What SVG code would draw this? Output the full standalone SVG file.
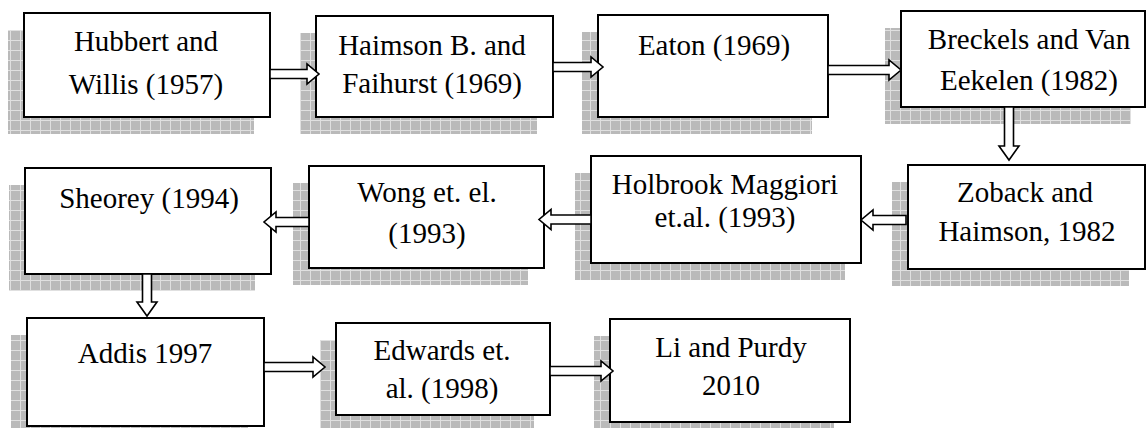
<svg xmlns="http://www.w3.org/2000/svg" width="1147" height="428" viewBox="0 0 1147 428">
<defs>
<pattern id="grid" patternUnits="userSpaceOnUse" width="10" height="10">
<rect width="10" height="10" fill="#bababa"/>
<path d="M0 0.5H10M0.5 0V10" stroke="#e0e0e0" stroke-width="1" fill="none"/>
</pattern>
</defs>
<style>
.sh{fill:url(#grid);stroke:none}
.bx{fill:#fff;stroke:#000;stroke-width:2}
.t{font-family:"Liberation Serif","Times New Roman",serif;font-size:29px;fill:#000;text-anchor:middle}
.ar{fill:#fff;stroke:#000;stroke-width:1.6;stroke-linejoin:miter}
</style>
<rect width="1147" height="428" fill="#fff"/>

<g id="hubbert">
<rect class="sh" x="8" y="30" width="246" height="104"/>
<rect class="bx" x="24" y="13" width="246" height="104"/>
<text class="t" x="146" y="51">Hubbert and</text>
<text class="t" x="146" y="94">Willis (1957)</text>
</g>
<g id="haimson">
<rect class="sh" x="300" y="33" width="237" height="101"/>
<rect class="bx" x="316" y="16" width="237" height="101"/>
<text class="t" x="432" y="55">Haimson B. and</text>
<text class="t" x="432" y="93">Faihurst (1969)</text>
</g>
<g id="eaton">
<rect class="sh" x="582" y="32" width="230" height="102"/>
<rect class="bx" x="598" y="15" width="230" height="102"/>
<text class="t" x="714" y="55">Eaton (1969)</text>
</g>
<g id="breckels">
<rect class="sh" x="885" y="28" width="246" height="96"/>
<rect class="bx" x="901" y="11" width="244" height="96"/>
<text class="t" x="1029" y="49">Breckels and Van</text>
<text class="t" x="1029" y="90">Eekelen (1982)</text>
</g>
<g id="zoback">
<rect class="sh" x="892" y="182" width="237" height="104"/>
<rect class="bx" x="908" y="165" width="237" height="104"/>
<text class="t" x="1025" y="202">Zoback and</text>
<text class="t" x="1027" y="241">Haimson, 1982</text>
</g>
<g id="holbrook">
<rect class="sh" x="575" y="173" width="270" height="107"/>
<rect class="bx" x="591" y="156" width="270" height="107"/>
<text class="t" x="725" y="194">Holbrook Maggiori</text>
<text class="t" x="725" y="227">et.al. (1993)</text>
</g>
<g id="wong">
<rect class="sh" x="293" y="183" width="235" height="102"/>
<rect class="bx" x="309" y="166" width="235" height="102"/>
<text class="t" x="427" y="202">Wong et. el.</text>
<text class="t" x="427" y="243">(1993)</text>
</g>
<g id="sheorey">
<rect class="sh" x="9" y="185" width="246" height="106"/>
<rect class="bx" x="25" y="168" width="246" height="106"/>
<text class="t" x="149" y="208">Sheorey (1994)</text>
</g>
<g id="addis">
<rect class="sh" x="11" y="335" width="237" height="108"/>
<rect class="bx" x="27" y="318" width="237" height="108"/>
<text class="t" x="145" y="363">Addis 1997</text>
</g>
<g id="edwards">
<rect class="sh" x="320" y="340" width="214" height="92"/>
<rect class="bx" x="336" y="323" width="214" height="92"/>
<text class="t" x="442" y="360">Edwards et.</text>
<text class="t" x="442" y="398">al. (1998)</text>
</g>
<g id="lipurdy">
<rect class="sh" x="594" y="336" width="240" height="103"/>
<rect class="bx" x="610" y="319" width="240" height="103"/>
<text class="t" x="731" y="357">Li and Purdy</text>
<text class="t" x="731" y="395">2010</text>
</g>

<g id="connectors">
<path class="ar" d="M270 69.5H307V64L319 74L307 84V78.5H270Z"/>
<path class="ar" d="M553 62.5H591V57L603 67L591 77V71.5H553Z"/>
<path class="ar" d="M828 65.5H889V60L901 70L889 80V74.5H828Z"/>
<path class="ar" d="M1004.5 107V146H999L1009 160L1019 146H1013.5V107Z"/>
<path class="ar" d="M906 215.5H873V210L861 220L873 230V224.5H906Z"/>
<path class="ar" d="M591 215H551V209.5L539 219.5L551 229.5V224H591Z"/>
<path class="ar" d="M309 217.5H276V212L264 222L276 232V226.5H309Z"/>
<path class="ar" d="M142.5 274V302H137L147 316L157 302H151.5V274Z"/>
<path class="ar" d="M264 362.5H313V357L325 367L313 377V371.5H264Z"/>
<path class="ar" d="M550 366.5H601V361L613 371L601 381V375.5H550Z"/>
</g>
</svg>
